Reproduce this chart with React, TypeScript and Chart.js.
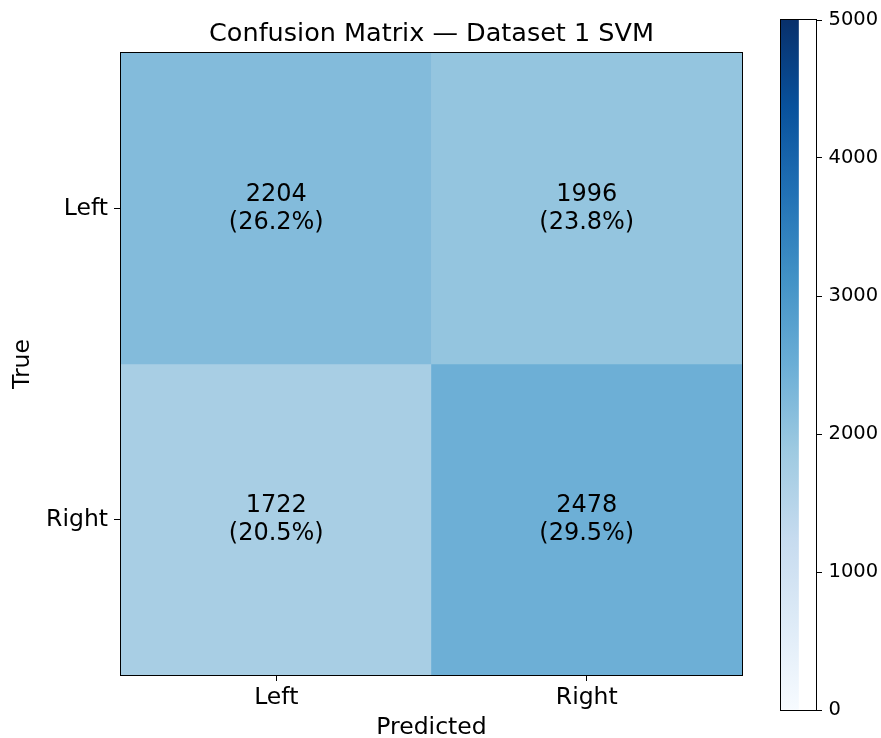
import React, { useEffect, useRef } from 'react';
import { Chart, registerables } from 'chart.js';

Chart.register(...registerables);

const TITLE = 'Confusion Matrix — Dataset 1 SVM';
const predictedLabels = ['Left', 'Right'];
const trueLabels = ['Left', 'Right'];
const rowTrueLeft = [2204, 1996];
const rowTrueRight = [1722, 2478];
const colorbarTicks = [0, 1000, 2000, 3000, 4000, 5000];
const vmin = 0;
const vmax = 5000;

// matplotlib "Blues" colormap anchor colours
const BLUES = ['#f7fbff', '#deebf7', '#c6dbef', '#9ecae1', '#6baed6', '#4292c6', '#2171b5', '#08519c', '#08306b'];

const FONT = "'DejaVu Sans', sans-serif";

function hexToRgb(h: string) {
  const n = parseInt(h.slice(1), 16);
  return [(n >> 16) & 255, (n >> 8) & 255, n & 255];
}

function blues(t: number) {
  const c = Math.max(0, Math.min(1, t)) * (BLUES.length - 1);
  const i = Math.min(Math.floor(c), BLUES.length - 2);
  const f = c - i;
  const a = hexToRgb(BLUES[i]);
  const b = hexToRgb(BLUES[i + 1]);
  const r = a.map((v, k) => Math.round(v + (b[k] - v) * f));
  return `rgb(${r[0]},${r[1]},${r[2]})`;
}

const frame = {
  id: 'frame',
  afterDatasetsDraw(chart: any) {
    const { ctx, chartArea: a } = chart;
    ctx.save();
    ctx.strokeStyle = '#000';
    ctx.lineWidth = 1;
    ctx.strokeRect(Math.round(a.left) - 0.5, Math.round(a.top) - 0.5, Math.round(a.right - a.left) + 1, Math.round(a.bottom - a.top) + 1);
    ctx.restore();
  },
};

const annotate = {
  id: 'annotate',
  afterDatasetsDraw(chart: any) {
    const { ctx } = chart;
    const rows = chart.data.datasets.map((d: any) => d.counts as number[]);
    const total = rows.reduce((s: number, r: number[]) => s + r.reduce((a, b) => a + b, 0), 0);
    ctx.save();
    ctx.fillStyle = '#000';
    ctx.font = `24px ${FONT}`;
    ctx.textAlign = 'center';
    ctx.textBaseline = 'middle';
    chart.data.datasets.forEach((ds: any, di: number) => {
      const meta = chart.getDatasetMeta(di);
      meta.data.forEach((el: any, i: number) => {
        const v = ds.counts[i];
        const cx = el.x;
        const cy = (el.y + el.base) / 2;
        ctx.fillText(String(v), cx, cy - 14);
        ctx.fillText(`(${((v / total) * 100).toFixed(1)}%)`, cx, cy + 14);
      });
    });
    ctx.restore();
  },
};

function MatrixChart() {
  const ref = useRef<HTMLCanvasElement>(null);
  useEffect(() => {
    const rows = [rowTrueLeft, rowTrueRight];
    const chart = new Chart(ref.current as HTMLCanvasElement, {
      type: 'bar',
      data: {
        labels: predictedLabels,
        datasets: rows.map((row, r) => ({
          label: trueLabels[r],
          counts: row,
          data: row.map(() => [r - 0.5, r + 0.5]),
          backgroundColor: row.map((v) => blues((v - vmin) / (vmax - vmin))),
          borderWidth: 0,
          barPercentage: 1,
          categoryPercentage: 1,
          grouped: false,
        })) as any,
      },
      options: {
        animation: false,
        responsive: false,
        maintainAspectRatio: false,
        layout: { padding: { left: 0, right: 139, top: 0, bottom: 0 } },
        plugins: {
          legend: { display: false },
          tooltip: { enabled: false },
          title: {
            display: true,
            text: TITLE,
            fullSize: false,
            color: '#000',
            font: { family: FONT, size: 25.5, weight: 'normal', lineHeight: 1.2 },
            padding: { top: 19, bottom: 3.4 },
          },
        },
        scales: {
          x: {
            type: 'category',
            offset: true,
            grid: { offset: false, drawOnChartArea: false, drawTicks: true, tickLength: 6, color: '#000' },
            border: { display: false },
            ticks: { color: '#000', padding: 3, font: { family: FONT, size: 23.5, lineHeight: 1.2 } },
            title: {
              display: true,
              text: 'Predicted',
              color: '#000',
              padding: 0,
              font: { family: FONT, size: 23.5, lineHeight: 20 / 23.5 },
            },
            afterFit: (s: any) => { s.height = 63; },
          },
          y: {
            type: 'linear',
            min: -0.5,
            max: 1.5,
            reverse: true,
            afterBuildTicks: (s: any) => { s.ticks = trueLabels.map((_, i) => ({ value: i })); },
            grid: { drawOnChartArea: false, drawTicks: true, tickLength: 7, color: '#000' },
            border: { display: false },
            ticks: {
              color: '#000',
              padding: 6,
              font: { family: FONT, size: 23.5, lineHeight: 1.2 },
              callback: (v: any) => trueLabels[Number(v)] ?? '',
            },
            title: {
              display: true,
              text: 'True',
              color: '#000',
              padding: { top: 8.4, bottom: 0 },
              font: { family: FONT, size: 23.5, lineHeight: 1.2 },
            },
            afterFit: (s: any) => { s.width = 121; },
          },
        },
      } as any,
      plugins: [annotate, frame],
    });
    return () => chart.destroy();
  }, []);
  return <canvas ref={ref} width={881} height={738} style={{ position: 'absolute', left: 0, top: 0, width: 881, height: 738 }} />;
}

function ColorbarChart() {
  const ref = useRef<HTMLCanvasElement>(null);
  useEffect(() => {
    const chart = new Chart(ref.current as HTMLCanvasElement, {
      type: 'bar',
      data: {
        labels: [''],
        datasets: [
          {
            data: [[vmin, vmax]],
            borderWidth: 0,
            barPercentage: 1,
            categoryPercentage: 1,
            backgroundColor: (c: any) => {
              const a = c.chart.chartArea;
              if (!a) return BLUES[4];
              const g = c.chart.ctx.createLinearGradient(0, a.bottom, 0, a.top);
              BLUES.forEach((col, i) => g.addColorStop(i / (BLUES.length - 1), col));
              return g;
            },
          },
        ] as any,
      },
      options: {
        animation: false,
        responsive: false,
        maintainAspectRatio: false,
        layout: { padding: { left: 21, right: 0, top: 20, bottom: 28 } },
        plugins: { legend: { display: false }, tooltip: { enabled: false }, title: { display: false } },
        scales: {
          x: { display: false, offset: false },
          y: {
            type: 'linear',
            position: 'right',
            min: vmin,
            max: vmax,
            afterBuildTicks: (s: any) => { s.ticks = colorbarTicks.map((v) => ({ value: v })); },
            grid: { drawOnChartArea: false, drawTicks: true, tickLength: 6, color: '#000' },
            border: { display: false },
            ticks: {
              color: '#000',
              padding: 6.5,
              font: { family: FONT, size: 19.5 },
              callback: (v: any) => String(v),
            },
            afterFit: (s: any) => { s.width = 65; },
          },
        },
      } as any,
      plugins: [frame],
    });
    return () => chart.destroy();
  }, []);
  return <canvas ref={ref} width={121} height={738} style={{ position: 'absolute', left: 760, top: 0, width: 121, height: 738 }} />;
}

export default function App() {
  return (
    <div style={{ position: 'fixed', left: 0, top: 0, width: 881, height: 738, background: '#fff', overflow: 'hidden' }}>
      <MatrixChart />
      <ColorbarChart />
    </div>
  );
}
